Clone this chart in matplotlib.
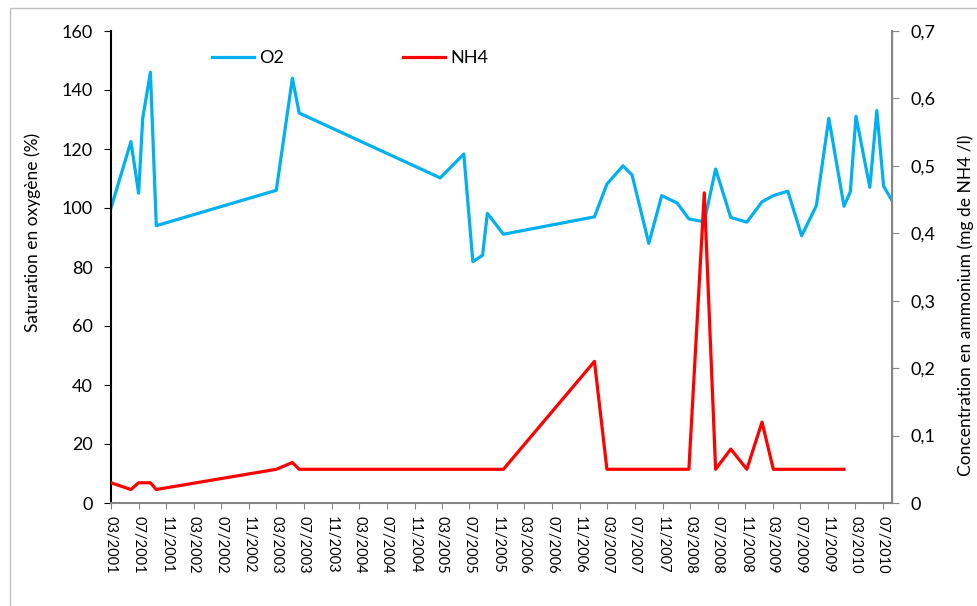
import numpy as np
import pandas as pd
import matplotlib
matplotlib.use("Agg")
import matplotlib.pyplot as plt
import matplotlib.dates as mdates
from matplotlib.patches import Rectangle

plt.rcParams['font.family'] = ['Lato', 'DejaVu Sans']

# O2 saturation (%)
o2_dates = ['2001-03-01', '2001-05-28', '2001-07-01', '2001-07-19', '2001-08-22',
            '2001-09-17', '2003-03-01', '2003-05-11', '2003-06-10', '2005-02-22',
            '2005-06-06', '2005-07-16', '2005-08-28', '2005-09-18', '2005-11-28',
            '2007-01-04', '2007-02-28', '2007-05-10', '2007-06-19', '2007-09-01',
            '2007-10-28', '2008-01-04', '2008-02-25', '2008-05-03', '2008-06-22',
            '2008-08-28', '2008-11-07', '2009-01-13', '2009-03-04', '2009-05-07',
            '2009-07-07', '2009-09-10', '2009-11-04', '2010-01-10', '2010-02-07',
            '2010-03-04', '2010-05-04', '2010-06-04', '2010-07-04', '2010-08-10']
o2_values = [100, 122.5, 105, 130.4, 146, 94, 106, 144, 132.2, 110.2,
             118.3, 81.8, 84, 98.2, 91.1, 97, 108.1, 114.3, 111.2, 88,
             104.2, 101.7, 96.3, 95.3, 113.2, 96.8, 95.2, 102.1, 104.2, 105.7,
             90.6, 100.8, 130.4, 100.6, 105.5, 131.1, 107, 133, 107.4, 102.5]

# NH4 concentration (mg NH4/l)
nh4_dates = ['2001-03-01', '2001-05-28', '2001-07-01', '2001-08-22', '2001-09-17',
             '2003-03-01', '2003-05-11', '2003-06-10', '2005-11-28', '2007-01-04',
             '2007-02-28', '2008-02-25', '2008-05-03', '2008-06-22', '2008-08-28',
             '2008-11-07', '2009-01-13', '2009-03-04', '2010-01-10']
nh4_values = [0.03, 0.02, 0.03, 0.03, 0.02,
              0.05, 0.06, 0.05, 0.05, 0.21,
              0.05, 0.05, 0.46, 0.05, 0.08,
              0.05, 0.12, 0.05, 0.05]

o2_x = pd.to_datetime(o2_dates)
nh4_x = pd.to_datetime(nh4_dates)
tick_dates = pd.date_range('2001-03-01', '2010-07-01', freq='4MS')

W, H = 977, 606
fig = plt.figure(figsize=(W / 100, H / 100), dpi=100)
ax = fig.add_axes([111 / W, 1 - 503 / H, (892 - 111) / W, (503 - 31) / H])
ax2 = ax.twinx()

# chart area border
fig.patches.append(Rectangle((10 / W, -0.05), 1.0, 1 - 8 / H + 0.05,
                             transform=fig.transFigure, fill=False,
                             edgecolor='#bfbfbf', linewidth=1))

l1, = ax.plot(o2_x, o2_values, color='#00b0f0', linewidth=2.3, label='O2')
l2, = ax2.plot(nh4_x, nh4_values, color='#ff0000', linewidth=2.3, label='NH4')

ax.set_xlim(o2_x[0], o2_x[-1])
ax.set_ylim(0, 160)
ax.set_yticks(np.arange(0, 161, 20))
ax2.set_ylim(0, 0.7)
ax2.set_yticks(np.arange(0, 0.71, 0.1))
ax2.set_yticklabels(['0'] + [f'{v:.1f}'.replace('.', ',') for v in np.arange(0.1, 0.71, 0.1)])

ax.set_xticks(tick_dates)
ax.xaxis.set_major_formatter(mdates.DateFormatter('%m/%Y'))
ax.tick_params(axis='x', labelsize=10.5, length=4,
               color='#868686', direction='out', pad=5)
for lab in ax.get_xticklabels():
    lab.set_rotation(-90)
    lab.set_va('top')
    lab.set_ha('center')
ax.tick_params(axis='y', labelsize=13, length=5, color='black', pad=8)
ax2.tick_params(axis='y', labelsize=13, length=5, color='#868686', pad=8)

for a in (ax, ax2):
    a.spines['top'].set_visible(False)
ax.spines['left'].set_color('black')
ax.spines['left'].set_linewidth(1.5)
ax.spines['bottom'].set_color('#868686')
ax.spines['bottom'].set_linewidth(1.5)
ax2.spines['right'].set_color('#868686')
ax2.spines['right'].set_linewidth(1.5)
ax2.spines['left'].set_visible(False)
ax2.spines['bottom'].set_visible(False)

fig.text(33 / W, 1 - 232 / H, 'Saturation en oxygène (%)', rotation=90,
         ha='center', va='center', fontsize=12.5)
fig.text(966 / W, 1 - 305 / H, 'Concentration en ammonium (mg de NH4 /l)',
         rotation=90, ha='center', va='center', fontsize=12.5)

ax.legend([l1, l2], ['O2', 'NH4'], loc='center left', ncol=2, frameon=False,
          bbox_to_anchor=((213 - 111) / (892 - 111) - 0.022, (503 - 58) / (503 - 31)),
          fontsize=13, handlelength=2.3, columnspacing=6.6, handletextpad=0.3)

fig.savefig('out.png', dpi=100)
